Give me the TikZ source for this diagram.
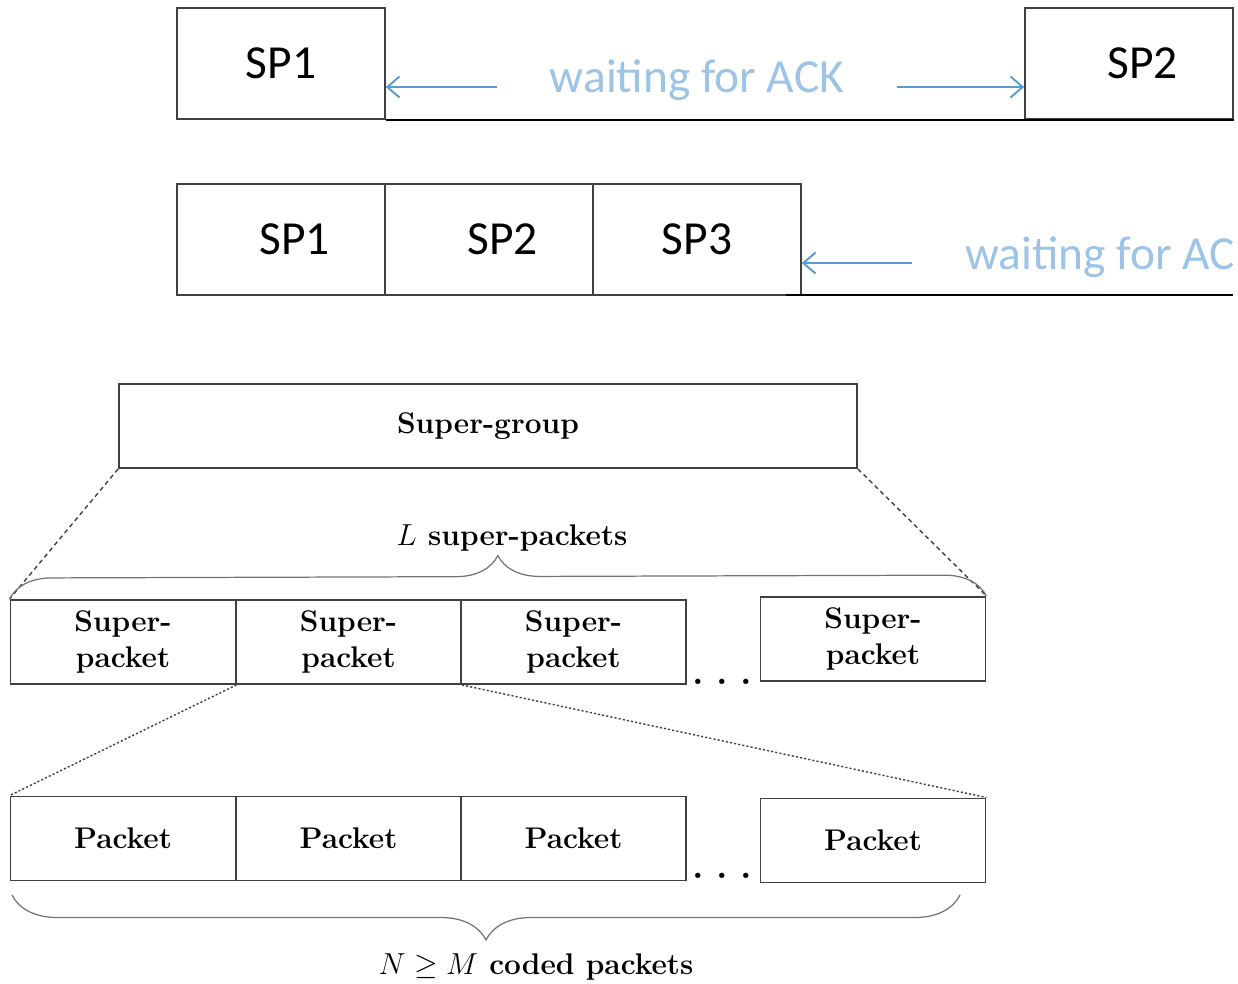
\documentclass[tikz,border=0pt]{standalone}
\usepackage{fontspec}
\newfontfamily\calibri{Carlito}
\usetikzlibrary{arrows.meta,decorations.pathreplacing}

\definecolor{ackline}{HTML}{5B9BD5}
\definecolor{acktext}{HTML}{9DC3E6}
\definecolor{frame}{HTML}{404040}

\begin{document}
\begin{tikzpicture}[x=0.02cm,y=-0.02cm,
  spbox/.style={draw=frame,line width=0.9pt,minimum width=4.16cm,minimum height=2.22cm,
    inner sep=0pt,font=\calibri\fontsize{27}{30}\selectfont},
  ack/.style={ackline,line width=1.1pt,-{Straight Barb[length=7pt,width=12pt]}},
  acklabel/.style={acktext,font=\calibri\fontsize{27}{30}\selectfont},
  baseline/.style={black,line width=1.4pt},
  cell/.style={draw=black!75,line width=1.1pt,minimum width=4.5cm,minimum height=1.68cm,
    inner sep=0pt,align=center,font=\bfseries\fontsize{17}{20.5}\selectfont},
  gap/.style={anchor=base,inner sep=0pt,font=\bfseries\fontsize{21}{24}\selectfont},
  note/.style={font=\bfseries\fontsize{17}{20}\selectfont},
  zoomA/.style={black!75,line width=0.8pt,dash pattern=on 2.5pt off 2pt},
  zoomB/.style={black!75,line width=0.8pt,dash pattern=on 1.2pt off 1.2pt},
  brc/.style={black!55,line width=0.7pt,decorate}]
\useasboundingbox (0,0) rectangle (1238,984);

% stop-and-wait: one super-packet, then wait
\node[spbox] (a1) at (281,63.5) {SP1};
\node[spbox] (a2) at (1129,63.5) {\hspace*{0.55cm}SP2};
\draw[baseline] (a1.south east) -- (a2.south east);
\node[acklabel] (wa) at (697,80) {waiting for ACK};
\coordinate (wal) at (497,87);
\coordinate (war) at (897,87);
\draw[ack] (wal) -- (wal -| a1.east);
\draw[ack] (war) -- (war -| a2.west);

% pipelined: three super-packets back to back
\node[spbox] (b1) at (281,239.5) {\hspace*{0.55cm}SP1};
\node[spbox] (b2) at (489,239.5) {\hspace*{0.55cm}SP2};
\node[spbox] (b3) at (697,239.5) {SP3};
\coordinate (bl0) at (786,295);
\coordinate (bl1) at (1233,295);
\draw[baseline] (bl0) -- (bl1);
\coordinate (wbl) at (912,263);
\draw[ack] (wbl) -- (wbl -| b3.east);
\begin{scope}
\clip (800,200) rectangle (1234,320);
\node[acklabel,anchor=west,inner sep=0pt] (wb) at (965,257) {waiting for ACK};
\end{scope}

% super-group
\node[cell,minimum width=14.76cm] (sg) at (488,426) {Super-group};

% super-packets
\node[cell] (sp1) at (123,642) {Super-\\packet};
\node[cell] (sp2) at (348.5,642) {Super-\\packet};
\node[cell] (sp3) at (573.5,642) {Super-\\packet};
\node[gap] (g1) at (722,684) {.\,\,.\,\,.};
\node[cell] (sp4) at (873,639) {Super-\\packet};

\draw[zoomA] (sg.south west) -- (sp1.north west);
\draw[zoomA] (sg.south east) -- (sp4.north east);
\draw[brc,decoration={brace,amplitude=0.84cm}] (sp1.north west) -- (sp4.north east);
\node[note] (nl) at (512,538) {$L$ super-packets};

% coded packets
\node[cell] (pk1) at (123,838.5) {Packet};
\node[cell] (pk2) at (348.5,838.5) {Packet};
\node[cell] (pk3) at (573.5,838.5) {Packet};
\node[gap] (g2) at (722,878) {.\,\,.\,\,.};
\node[cell] (pk4) at (873,840.5) {Packet};

\draw[zoomB] (sp1.south east) -- (pk1.north west);
\draw[zoomB] (sp2.south east) -- (pk4.north east);
\coordinate (cl) at (12,895);
\coordinate (cr) at (960,895);
\draw[brc,decoration={brace,amplitude=0.9cm}] (cr) -- (cl);
\node[note] (nn) at (536,967) {$N \geq M$ coded packets};
\end{tikzpicture}
\end{document}
